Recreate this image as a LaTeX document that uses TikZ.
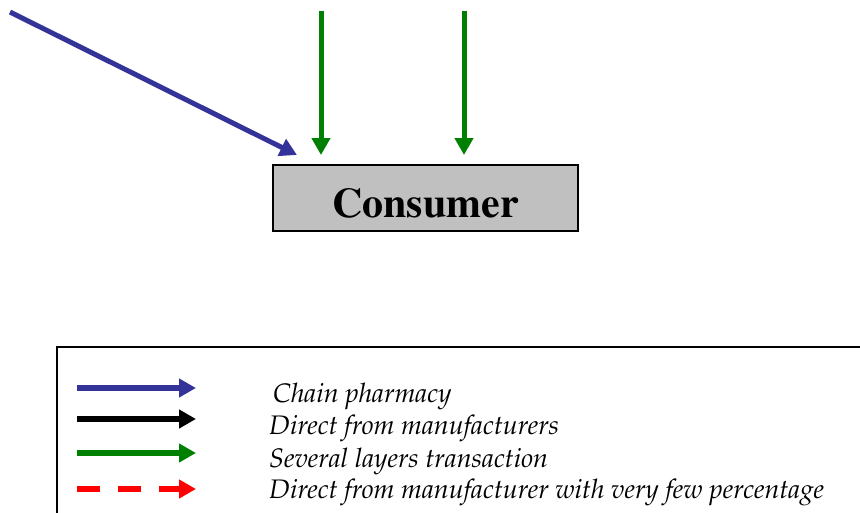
\documentclass[tikz,border=0pt]{standalone}
\usetikzlibrary{arrows.meta,
                positioning}
\definecolor{chainblue}{RGB}{51,51,153}
\definecolor{layergreen}{RGB}{0,128,0}
\newcommand{\boxfont}{\fontencoding{OT1}\fontfamily{ptm}\fontseries{b}\fontsize{42}{48}\selectfont}
\newcommand{\keyfont}{\fontencoding{OT1}\fontfamily{ppl}\fontshape{it}\fontsize{26.8}{30}\selectfont}
\tikzset{block/.style =
   {rectangle,
    draw,
    line width=1.5pt,
    fill={rgb,255:red,192;green,192;blue,192},
    minimum width=305pt,
    minimum height=66pt,
    inner sep=0pt,
    text height=38pt,
    text depth=0pt,
    font=\boxfont}}
\tikzset{flow/.style =
   {line width=5pt,
    -{Triangle[length=17pt,width=18pt]}}}
\tikzset{key/.style =
   {line width=6pt,
    -{Triangle[length=17pt,width=18pt]}}}
\tikzset{keytext/.style =
   {anchor=west,
    inner sep=0pt,
    font=\keyfont}}

\begin{document}
\begin{tikzpicture}[x=1pt,y=-1pt]

    \useasboundingbox (0,0) rectangle (860,512);

    \node [block] (consumer) at (425.5,198) {Consumer};

    % incoming flows
    \coordinate (chainstart) at (10,12);
    \coordinate (chainend) at (297,155);
    \coordinate (layerstartA) at (321,11);
    \coordinate (layerendA) at (321,155);
    \coordinate (layerstartB) at (464,11);
    \coordinate (layerendB) at (464,155);

    \draw [flow, chainblue] (chainstart) -- (chainend);
    \draw [flow, layergreen] (layerstartA) -- (layerendA);
    \draw [flow, layergreen] (layerstartB) -- (layerendB);

    % legend
    \draw [line width=2pt] (57,347) rectangle (880,530);

    \node [keytext] (keychain) at (273,396) {Chain pharmacy};
    \node [keytext] (keydirect) at (269,428) {Direct from manufacturers};
    \node [keytext] (keylayers) at (269,461) {Several layers transaction};
    \node [keytext] (keyfew) at (269,492) {Direct from manufacturer with very few percentage};

    \coordinate (chainA) at (77,388);
    \coordinate (chainB) at (196,388);
    \coordinate (directA) at (77,419);
    \coordinate (directB) at (196,419);
    \coordinate (layersA) at (77,453);
    \coordinate (layersB) at (196,453);
    \coordinate (fewA) at (77,489);
    \coordinate (fewB) at (196,489);

    \draw [key, chainblue] (chainA) -- (chainB);
    \draw [key, black] (directA) -- (directB);
    \draw [key, layergreen] (layersA) -- (layersB);
    \draw [key, red, dash pattern=on 23pt off 18pt] (fewA) -- (fewB);

\end{tikzpicture}
\end{document}
